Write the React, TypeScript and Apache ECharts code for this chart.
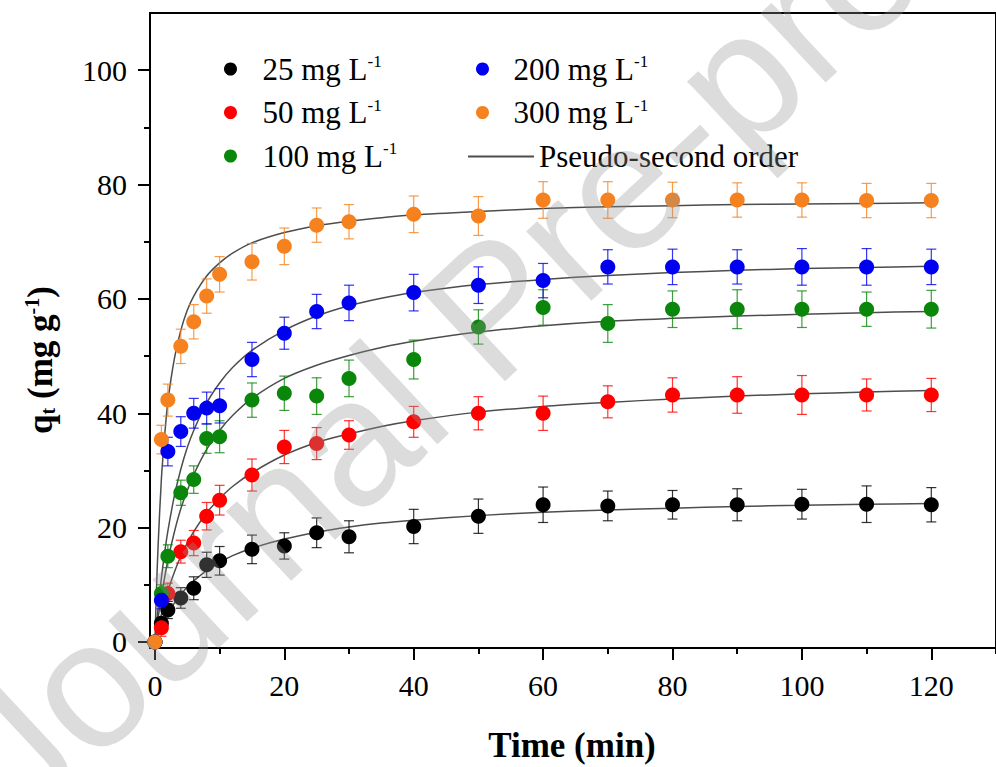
import React, { useEffect, useRef } from 'react';
import * as echarts from 'echarts';

// ---------------- data ----------------
const times = [0, 1, 2, 4, 6, 8, 10, 15, 20, 25, 30, 40, 50, 60, 70, 80, 90, 100, 110, 120];

const seriesNames = ['25 mg L-1', '50 mg L-1', '100 mg L-1', '200 mg L-1', '300 mg L-1'];
const seriesColors = ['#000000', '#ff0000', '#0a870a', '#0000f0', '#f5821f'];

const q25 = [0, 3.3, 5.6, 7.7, 9.4, 13.5, 14.2, 16.2, 16.8, 19.1, 18.4, 20.2, 22.0, 24.0, 23.8, 24.0, 24.0, 24.1, 24.1, 24.0];
const q50 = [0, 2.5, 8.5, 15.8, 17.3, 22.0, 24.8, 29.2, 34.1, 34.7, 36.2, 38.5, 40.0, 40.0, 42.0, 43.2, 43.2, 43.2, 43.2, 43.2];
const q100 = [0, 8.5, 15.0, 26.1, 28.4, 35.6, 35.9, 42.3, 43.5, 43.0, 46.1, 49.4, 55.1, 58.5, 55.7, 58.2, 58.2, 58.2, 58.2, 58.2];
const q200 = [0, 7.3, 33.3, 36.8, 40.0, 40.9, 41.3, 49.4, 54.0, 57.8, 59.3, 61.1, 62.4, 63.2, 65.6, 65.6, 65.6, 65.6, 65.6, 65.6];
const q300 = [0, 35.4, 42.3, 51.7, 56.0, 60.5, 64.3, 66.5, 69.2, 72.9, 73.5, 74.8, 74.5, 77.3, 77.3, 77.3, 77.3, 77.3, 77.2, 77.2];

const err25 = [0, 1.0, 1.5, 1.8, 2.0, 2.2, 2.5, 2.5, 2.3, 2.6, 2.8, 3.0, 3.0, 3.1, 2.6, 2.5, 2.8, 2.6, 3.2, 3.0];
const err50 = [0, 1.5, 1.8, 2.0, 2.2, 2.4, 2.6, 2.8, 2.9, 2.8, 2.5, 2.7, 2.9, 3.0, 2.8, 3.0, 3.2, 3.4, 2.8, 2.9];
const err100 = [0, 1.5, 2.0, 2.2, 2.4, 2.6, 2.8, 3.0, 3.0, 3.2, 3.2, 3.4, 3.0, 3.1, 3.3, 3.2, 3.4, 3.2, 3.0, 3.3];
const err200 = [0, 1.5, 2.5, 2.6, 2.6, 2.8, 3.0, 3.0, 2.8, 3.0, 3.1, 3.2, 3.2, 3.0, 3.0, 3.1, 3.0, 3.2, 3.2, 3.1];
const err300 = [0, 2.5, 2.8, 3.0, 3.0, 3.0, 3.1, 3.2, 3.2, 3.0, 3.0, 3.2, 3.4, 3.2, 3.2, 3.1, 3.0, 3.0, 3.0, 3.0];

const fitName = 'Pseudo-second order';
const fitTimes = [0, 0.25, 0.5, 1, 1.5, 2, 3, 4, 5, 6, 8, 10, 12, 15, 20, 25, 30, 35, 40, 50, 60, 70, 80, 90, 100, 110, 120];
const fit25 = [0, 0.7, 1.4, 2.7, 3.9, 5, 6.8, 8.3, 9.6, 10.7, 12.5, 13.9, 15.1, 16.4, 18, 19.2, 20.1, 20.8, 21.3, 22.1, 22.7, 23.1, 23.4, 23.7, 23.9, 24.1, 24.2];
const fit50 = [0, 1.3, 2.5, 4.8, 6.9, 8.9, 12.2, 15, 17.3, 19.3, 22.6, 25.1, 27.2, 29.6, 32.7, 34.9, 36.4, 37.7, 38.7, 40.2, 41.2, 41.9, 42.5, 43, 43.4, 43.7, 44];
const fit100 = [0, 2.2, 4.3, 8, 11.3, 14.3, 19.2, 23.3, 26.5, 29.3, 33.7, 37, 39.6, 42.6, 46.1, 48.4, 50.1, 51.5, 52.6, 54.2, 55.3, 56.1, 56.6, 57, 57.3, 57.6, 57.8];
const fit200 = [0, 3.1, 6, 11.2, 15.6, 19.4, 25.5, 30.2, 34, 37, 41.8, 45.3, 48, 51, 54.5, 57, 58.8, 60.1, 61.1, 62.5, 63.4, 64.1, 64.6, 65, 65.3, 65.5, 65.7];
const fit300 = [0, 9.5, 17, 28.5, 36, 42, 49.5, 54.5, 58, 60.5, 64, 66.3, 68, 69.8, 71.6, 72.8, 73.6, 74.2, 74.7, 75.3, 75.8, 76.1, 76.3, 76.5, 76.6, 76.7, 76.8];

const xMajorTicks = [0, 20, 40, 60, 80, 100, 120];
const xMinorTicks = [10, 30, 50, 70, 90, 110, 130];
const yMajorTicks = [0, 20, 40, 60, 80, 100];
const yMinorTicks = [10, 30, 50, 70, 90];

const xTitle = 'Time (min)';
const watermarkText = 'Journal Pre-proof';

const qValues = [q25, q50, q100, q200, q300];
const errValues = [err25, err50, err100, err200, err300];
const fitValues = [fit25, fit50, fit100, fit200, fit300];

// ---------------- styling ----------------
const SERIF = '"Liberation Serif", "Times New Roman", serif';
const FIT_COLOR = '#4d4d4d';

function makeErrorRender(color: string) {
  return (params: any, api: any) => {
    const x = api.value(0);
    const y = api.value(1);
    const e = api.value(2);
    if (!(e > 0)) return null;
    const top = api.coord([x, y + e]);
    const bot = api.coord([x, y - e]);
    const hw = 5;
    const style = { stroke: color, lineWidth: 1.2, opacity: 0.8 };
    return {
      type: 'group',
      children: [
        { type: 'line', shape: { x1: top[0], y1: top[1], x2: bot[0], y2: bot[1] }, style },
        { type: 'line', shape: { x1: top[0] - hw, y1: top[1], x2: top[0] + hw, y2: top[1] }, style },
        { type: 'line', shape: { x1: bot[0] - hw, y1: bot[1], x2: bot[0] + hw, y2: bot[1] }, style },
      ],
    };
  };
}

function legendFormatter(name: string) {
  if (name === fitName) return `{a|${name}}`;
  return `{a|${name.replace(' L-1', ' L')}}{sup|-1}`;
}

const legendText = {
  color: '#000',
  fontFamily: SERIF,
  fontSize: 31,
  rich: {
    a: { fontFamily: SERIF, fontSize: 31, lineHeight: 32, color: '#000' },
    sup: { fontFamily: SERIF, fontSize: 17, lineHeight: 15, verticalAlign: 'top', color: '#000' },
  },
};

function buildOption() {
  const series: any[] = [];
  fitValues.forEach((fv) => {
    series.push({
      name: fitName,
      type: 'line',
      data: fitTimes.map((t, i) => [t, fv[i]]),
      smooth: 0.3,
      showSymbol: false,
      symbol: 'none',
      itemStyle: { color: FIT_COLOR },
      lineStyle: { color: FIT_COLOR, width: 1.5 },
      z: 2,
      silent: true,
    });
  });
  seriesNames.forEach((name, k) => {
    series.push({
      name: name + ' error',
      type: 'custom',
      renderItem: makeErrorRender(seriesColors[k]),
      data: times.map((t, i) => [t, qValues[k][i], errValues[k][i]]),
      encode: { x: 0, y: 1 },
      z: 3,
      silent: true,
    });
  });
  seriesNames.forEach((name, k) => {
    series.push({
      name,
      type: 'scatter',
      data: times.map((t, i) => [t, qValues[k][i]]),
      symbol: 'circle',
      symbolSize: 15,
      itemStyle: { color: seriesColors[k], opacity: 1 },
      z: 4,
    });
  });

  const axisCommon = {
    type: 'value',
    splitLine: { show: false },
  };

  return {
    animation: false,
    backgroundColor: '#ffffff',
    grid: {
      left: 150,
      top: 13,
      right: -11,
      bottom: 119,
      show: true,
      borderColor: '#000',
      borderWidth: 2,
      backgroundColor: 'transparent',
    },
    xAxis: [
      {
        ...axisCommon,
        min: -0.76,
        max: 130,
        position: 'bottom',
        axisLine: { show: true, onZero: false, lineStyle: { color: '#000', width: 2 } },
        axisTick: { show: true, customValues: xMajorTicks, length: 12, lineStyle: { color: '#000', width: 2 } },
        axisLabel: {
          show: true,
          customValues: xMajorTicks,
          margin: 22,
          color: '#000',
          fontFamily: SERIF,
          fontSize: 30,
        },
      },
      {
        ...axisCommon,
        min: -0.76,
        max: 130,
        position: 'bottom',
        axisLine: { show: false, onZero: false },
        axisTick: { show: true, customValues: xMinorTicks, length: 6, lineStyle: { color: '#000', width: 2 } },
        axisLabel: { show: false },
      },
    ],
    yAxis: [
      {
        ...axisCommon,
        min: -1.05,
        max: 110,
        position: 'left',
        axisLine: { show: true, onZero: false, lineStyle: { color: '#000', width: 2 } },
        axisTick: { show: true, customValues: yMajorTicks, length: 12, lineStyle: { color: '#000', width: 2 } },
        axisLabel: {
          show: true,
          customValues: yMajorTicks,
          margin: 23,
          color: '#000',
          fontFamily: SERIF,
          fontSize: 30,
        },
      },
      {
        ...axisCommon,
        min: -1.05,
        max: 110,
        position: 'left',
        axisLine: { show: false, onZero: false },
        axisTick: { show: true, customValues: yMinorTicks, length: 6, lineStyle: { color: '#000', width: 2 } },
        axisLabel: { show: false },
      },
    ],
    legend: [
      {
        orient: 'vertical',
        left: 224,
        top: 53,
        padding: 0,
        itemWidth: 54,
        itemHeight: 13,
        itemGap: 12,
        selectedMode: false,
        data: seriesNames.slice(0, 3).map((n) => ({ name: n, icon: 'circle' })),
        formatter: legendFormatter,
        textStyle: legendText,
      },
      {
        orient: 'vertical',
        left: 476,
        top: 53,
        padding: 0,
        itemWidth: 52,
        itemHeight: 13,
        itemGap: 12,
        selectedMode: false,
        data: seriesNames.slice(3, 5).map((n) => ({ name: n, icon: 'circle' })),
        formatter: legendFormatter,
        textStyle: legendText,
      },
      {
        orient: 'vertical',
        left: 468,
        top: 141,
        padding: 0,
        itemWidth: 66,
        itemHeight: 2,
        selectedMode: false,
        data: [{ name: fitName, icon: 'rect', itemStyle: { color: FIT_COLOR } }],
        formatter: legendFormatter,
        textStyle: legendText,
      },
    ],
    graphic: [
      {
        type: 'text',
        x: 40,
        y: 360,
        rotation: Math.PI / 2,
        silent: true,
        style: {
          text: '{q|q}{sub|t}{b| (mg g}{sup|-1}{b|)}',
          align: 'center',
          verticalAlign: 'middle',
          fill: '#000',
          rich: {
            q: { fontFamily: SERIF, fontWeight: 'bold', fontSize: 35, lineHeight: 36, fill: '#000' },
            b: { fontFamily: SERIF, fontWeight: 'bold', fontSize: 35, lineHeight: 36, fill: '#000' },
            sub: { fontFamily: SERIF, fontWeight: 'bold', fontSize: 20, lineHeight: 16, verticalAlign: 'bottom', fill: '#000' },
            sup: { fontFamily: SERIF, fontWeight: 'bold', fontSize: 20, lineHeight: 16, verticalAlign: 'top', fill: '#000' },
          },
        },
      },
      {
        type: 'text',
        x: 572,
        y: 745,
        silent: true,
        style: {
          text: xTitle,
          align: 'center',
          verticalAlign: 'middle',
          fill: '#000',
          fontFamily: SERIF,
          fontWeight: 'bold',
          fontSize: 35,
        },
      },
      {
        type: 'text',
        x: 492,
        y: 308,
        rotation: 0.75,
        silent: true,
        z: 100,
        style: {
          text: watermarkText,
          align: 'center',
          verticalAlign: 'middle',
          fill: 'rgba(150,150,150,0.33)',
          fontFamily: '"Liberation Sans", Arial, sans-serif',
          fontSize: 180,
        },
      },
    ],
    series,
  };
}

export default function App() {
  const ref = useRef<HTMLDivElement>(null);
  useEffect(() => {
    if (!ref.current) return;
    const chart = echarts.init(ref.current, null, { renderer: 'svg' });
    chart.setOption(buildOption() as any);
    return () => {
      chart.dispose();
    };
  }, []);
  return (
    <div
      ref={ref}
      style={{ position: 'fixed', left: 0, top: 0, width: 996, height: 767, background: '#fff', overflow: 'hidden' }}
    />
  );
}
